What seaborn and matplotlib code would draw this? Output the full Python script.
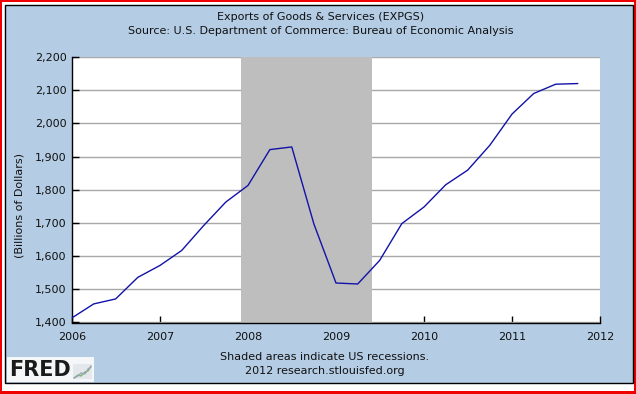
import matplotlib
matplotlib.use("Agg")
import matplotlib.pyplot as plt
import numpy as np
import pandas as pd
import seaborn as sns
from matplotlib.patches import Rectangle
from matplotlib.lines import Line2D

# ---- data ----
quarters = ["2006-01-01", "2006-04-01", "2006-07-01", "2006-10-01",
            "2007-01-01", "2007-04-01", "2007-07-01", "2007-10-01",
            "2008-01-01", "2008-04-01", "2008-07-01", "2008-10-01",
            "2009-01-01", "2009-04-01", "2009-07-01", "2009-10-01",
            "2010-01-01", "2010-04-01", "2010-07-01", "2010-10-01",
            "2011-01-01", "2011-04-01", "2011-07-01", "2011-10-01"]
exports = [1414, 1456, 1471, 1536,
           1572, 1617, 1692, 1763,
           1813, 1921, 1929, 1697,
           1519, 1516, 1587, 1698,
           1748, 1815, 1859, 1934,
           2028, 2090, 2118, 2120]
recession = ["2007-12-01", "2009-06-01"]
year_ticks = [2006, 2007, 2008, 2009, 2010, 2011, 2012]
y_ticks = [1400, 1500, 1600, 1700, 1800, 1900, 2000, 2100, 2200]

title_lines = ["Exports of Goods & Services (EXPGS)",
               "Source: U.S. Department of Commerce: Bureau of Economic Analysis"]
y_label = "(Billions of Dollars)"
footer_lines = ["Shaded areas indicate US recessions.",
                "2012 research.stlouisfed.org"]


def frac_year(s):
    d = pd.Timestamp(s)
    return d.year + (d.dayofyear - 1) / (366 if d.is_leap_year else 365)


df = pd.DataFrame({"year": [frac_year(q) for q in quarters], "value": exports})

sns.set_style("white")
plt.rcParams["font.family"] = ["DejaVu Sans"]

W, H = 636, 394
fig = plt.figure(figsize=(W / 100, H / 100), dpi=100)
fig.patch.set_facecolor("#F00000")


def box(x0, y0, x1, y1, **kw):
    return Rectangle((x0 / W, 1 - y1 / H), (x1 - x0) / W, (y1 - y0) / H,
                     transform=fig.transFigure, **kw)


fig.patches.append(box(2, 2, 634, 391, facecolor="white", edgecolor="none", zorder=-3))
fig.patches.append(box(4.5, 4.5, 632.5, 382.5, facecolor="#B4CCE4",
                       edgecolor="black", linewidth=1, zorder=-2))

left, right, top, bottom = 72, 600, 57, 322.5
ax = fig.add_axes([left / W, 1 - bottom / H, (right - left) / W, (bottom - top) / H])
ax.set_facecolor("white")
ax.set_axisbelow(True)

ax.axvspan(frac_year(recession[0]), frac_year(recession[1]),
           facecolor="#BEBEBE", edgecolor="none", zorder=1)
sns.lineplot(data=df, x="year", y="value", ax=ax, color="#1212A8",
             linewidth=1.0, zorder=3)

ax.set_xlim(year_ticks[0], year_ticks[-1])
ax.set_ylim(y_ticks[0], y_ticks[-1])
ax.set_xticks(year_ticks)
ax.set_xticklabels([str(y) for y in year_ticks])
ax.set_yticks(y_ticks)
ax.set_yticklabels([f"{v:,}" for v in y_ticks])
ax.grid(axis="y", color="#A8A8A8", linewidth=1.0)
ax.grid(axis="x", visible=False)
ax.set_xlabel("")
ax.set_ylabel("")
for s in ["top", "right"]:
    ax.spines[s].set_visible(False)
for s in ["left", "bottom"]:
    ax.spines[s].set_color("black")
    ax.spines[s].set_linewidth(1.0)
ax.tick_params(axis="x", direction="in", length=5, width=1, color="black",
               labelsize=8, pad=7, bottom=True, labelcolor="#111111")
ax.tick_params(axis="y", direction="in", length=5, width=1, color="black",
               labelsize=8, pad=4, left=True, labelcolor="#111111")


def ft(x, y, s, **kw):
    fig.text(x / W, 1 - y / H, s, **kw)


ft(321, 17, title_lines[0], ha="center", va="center", fontsize=8, color="#111111")
ft(321, 31, title_lines[1], ha="center", va="center", fontsize=8, color="#111111")
ft(20, 206, y_label, ha="center", va="center", rotation=90, fontsize=8, color="#111111")
ft(325, 357, footer_lines[0], ha="center", va="center", fontsize=8, color="#111111")
ft(325, 371, footer_lines[1], ha="center", va="center", fontsize=8, color="#111111")

# FRED logo
fig.patches.append(box(7, 357, 94, 382, facecolor="#F4F6F8", edgecolor="none", zorder=2))
ft(40, 370.5, "FRED", ha="center", va="center", fontsize=15, fontweight="bold",
   color="#1A1A1A", zorder=3)
fig.patches.append(box(73, 364, 92, 379, facecolor="#E4E8EC", edgecolor="none", zorder=3))
lx = np.array([74, 78, 81, 85, 88, 91])
for ly, col in [([378, 375, 376, 372, 371, 366], "#7FAF6F"),
                ([378, 376, 373, 374, 369, 367], "#9AA9B8")]:
    fig.lines.append(Line2D(lx / W, 1 - np.array(ly) / H, transform=fig.transFigure,
                            color=col, linewidth=1, zorder=4))

fig.savefig("out.png", dpi=100)
